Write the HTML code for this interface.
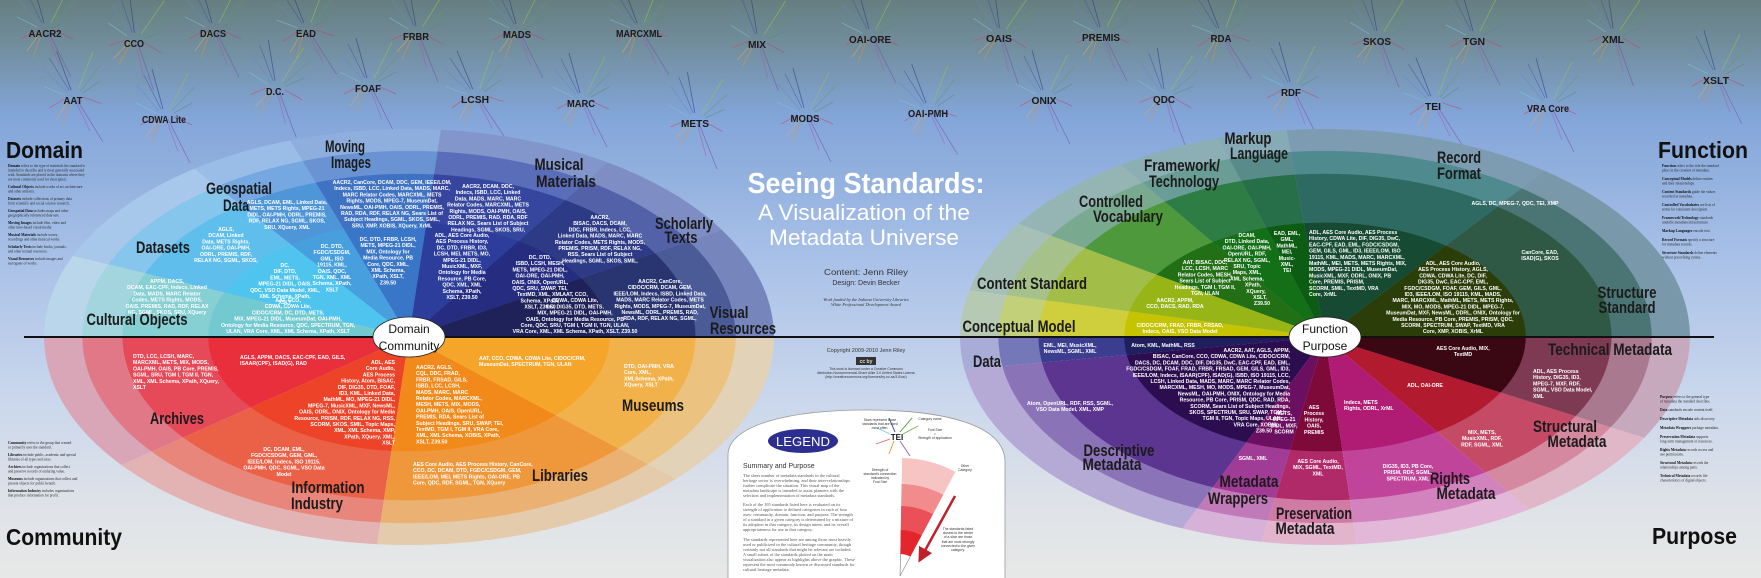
<!DOCTYPE html>
<html><head><meta charset="utf-8">
<style>
html,body{margin:0;padding:0;width:1761px;height:578px;overflow:hidden;}
svg{display:block}
.L{font:bold 17px "Liberation Sans",sans-serif;fill:#1b1b1b}
.T{font:bold 23px "Liberation Sans",sans-serif;fill:#111}
.S{font:bold 10.5px "Liberation Sans",sans-serif;fill:#1a1a1a}
.w{font:bold 5.2px "Liberation Sans",sans-serif;fill:#fff}
.d{font:3.6px "Liberation Serif",serif;fill:#2a2a2a}
.db{font:bold 3.6px "Liberation Serif",serif;fill:#111}
.g{font:4.4px "Liberation Serif",serif;fill:#555}
.a{font:3.4px "Liberation Sans",sans-serif;fill:#333}
</style></head><body>
<svg width="1761" height="578" viewBox="0 0 1761 578" xmlns="http://www.w3.org/2000/svg" xmlns:xlink="http://www.w3.org/1999/xlink">
<defs>
<linearGradient id="bg" x1="0" y1="0" x2="0" y2="1">
<stop offset="0" stop-color="#667e80"/>
<stop offset="0.09" stop-color="#7390a2"/>
<stop offset="0.2" stop-color="#82a5d8"/>
<stop offset="0.45" stop-color="#a9c1e8"/>
<stop offset="0.68" stop-color="#c9d6ec"/>
<stop offset="0.88" stop-color="#dfe3e8"/>
<stop offset="1" stop-color="#e7e8e7"/>
</linearGradient>
<marker id="ah" markerWidth="6" markerHeight="6" refX="3" refY="3" orient="auto"><path d="M0,0 L6,3 L0,6 Z" fill="#c0202a"/></marker>
<!-- left wheel sector clips (unit space) -->
<clipPath id="c1"><polygon points="0,0 -1.5,0 -1.381,-0.586"/></clipPath>
<clipPath id="c2"><polygon points="0,0 -1.381,-0.586 -0.882,-1.214"/></clipPath>
<clipPath id="c3"><polygon points="0,0 -0.882,-1.214 -0.488,-1.418"/></clipPath>
<clipPath id="c4"><polygon points="0,0 -0.488,-1.418 0.131,-1.494"/></clipPath>
<clipPath id="c5"><polygon points="0,0 0.131,-1.494 0.817,-1.258"/></clipPath>
<clipPath id="c6"><polygon points="0,0 0.817,-1.258 1.286,-0.773"/></clipPath>
<clipPath id="c7"><polygon points="0,0 1.286,-0.773 1.5,0"/></clipPath>
<clipPath id="c8"><polygon points="0,0 -1.5,0 -1.182,0.924"/></clipPath>
<clipPath id="c9"><polygon points="0,0 -1.182,0.924 -0.131,1.494"/></clipPath>
<clipPath id="c10"><polygon points="0,0 -0.131,1.494 1.097,1.023"/></clipPath>
<clipPath id="c11"><polygon points="0,0 1.097,1.023 1.5,0"/></clipPath>
<!-- right wheel -->
<clipPath id="d1"><polygon points="0,0 -1.5,0 -1.462,-0.338"/></clipPath>
<clipPath id="d2"><polygon points="0,0 -1.462,-0.338 -1.258,-0.817"/></clipPath>
<clipPath id="d3"><polygon points="0,0 -1.258,-0.817 -0.839,-1.244"/></clipPath>
<clipPath id="d4"><polygon points="0,0 -0.839,-1.244 -0.439,-1.434"/></clipPath>
<clipPath id="d5"><polygon points="0,0 -0.439,-1.434 -0.157,-1.492"/></clipPath>
<clipPath id="d6"><polygon points="0,0 -0.157,-1.492 0.903,-1.198"/></clipPath>
<clipPath id="d7"><polygon points="0,0 0.903,-1.198 1.5,0"/></clipPath>
<clipPath id="d8"><polygon points="0,0 -1.5,0 -1.482,0.235"/></clipPath>
<clipPath id="d9"><polygon points="0,0 -1.482,0.235 -0.586,1.381"/></clipPath>
<clipPath id="d10"><polygon points="0,0 -0.586,1.381 -0.260,1.477"/></clipPath>
<clipPath id="d11"><polygon points="0,0 -0.260,1.477 0.131,1.494"/></clipPath>
<clipPath id="d12"><polygon points="0,0 0.131,1.494 0.839,1.244"/></clipPath>
<clipPath id="d13"><polygon points="0,0 0.839,1.244 1.312,0.727"/></clipPath>
<clipPath id="d14"><polygon points="0,0 1.312,0.727 1.5,0"/></clipPath>
<g id="spk" stroke-width="0.8" stroke-opacity="0.6" fill="none">
<line x1="-1" y1="-10" x2="-12" y2="-50" stroke="#26367f"/>
<line x1="-3" y1="-10" x2="-20" y2="-44" stroke="#3a55a8"/>
<line x1="-5" y1="-8" x2="-27" y2="-34" stroke="#6288cc"/>
<line x1="-8" y1="-6" x2="-28" y2="-16" stroke="#7cc6e2"/>
<line x1="6" y1="-10" x2="24" y2="-46" stroke="#9acd3c"/>
<line x1="8" y1="-8" x2="30" y2="-32" stroke="#5aa05a"/>
<line x1="10" y1="-6" x2="28" y2="-16" stroke="#5e8a6c"/>
<line x1="4" y1="0" x2="26" y2="44" stroke="#7a48a8"/>
<line x1="2" y1="0" x2="14" y2="32" stroke="#a35ab2"/>
<line x1="-3" y1="0" x2="-12" y2="24" stroke="#e89232"/>
<line x1="-5" y1="0" x2="-18" y2="18" stroke="#f2a848"/>
<line x1="-9" y1="-2" x2="-24" y2="6" stroke="#e04050"/>
<line x1="10" y1="-2" x2="28" y2="6" stroke="#c04070"/>
</g>
</defs>
<rect width="1761" height="578" fill="url(#bg)"/>

<!-- spokes -->
<g>
<use xlink:href="#spk" href="#spk" transform="translate(45,33)"/>
<use xlink:href="#spk" href="#spk" transform="translate(134,43) rotate(8)"/>
<use xlink:href="#spk" href="#spk" transform="translate(213,33)"/>
<use xlink:href="#spk" href="#spk" transform="translate(306,33) rotate(-6)"/>
<use xlink:href="#spk" href="#spk" transform="translate(416,36) rotate(5)"/>
<use xlink:href="#spk" href="#spk" transform="translate(517,34)"/>
<use xlink:href="#spk" href="#spk" transform="translate(639,33) rotate(-5)"/>
<use xlink:href="#spk" href="#spk" transform="translate(757,44) rotate(6)"/>
<use xlink:href="#spk" href="#spk" transform="translate(870,39)"/>
<use xlink:href="#spk" href="#spk" transform="translate(999,38) rotate(8)"/>
<use xlink:href="#spk" href="#spk" transform="translate(1101,37)"/>
<use xlink:href="#spk" href="#spk" transform="translate(1221,38) rotate(-6)"/>
<use xlink:href="#spk" href="#spk" transform="translate(1377,41) rotate(5)"/>
<use xlink:href="#spk" href="#spk" transform="translate(1474,41)"/>
<use xlink:href="#spk" href="#spk" transform="translate(1613,39) rotate(7)"/>
<use xlink:href="#spk" href="#spk" transform="translate(1716,80)"/>
<use xlink:href="#spk" href="#spk" transform="translate(73,100) rotate(-5)"/>
<use xlink:href="#spk" href="#spk" transform="translate(164,119)"/>
<use xlink:href="#spk" href="#spk" transform="translate(275,91) rotate(6)"/>
<use xlink:href="#spk" href="#spk" transform="translate(368,88)"/>
<use xlink:href="#spk" href="#spk" transform="translate(475,99) rotate(-7)"/>
<use xlink:href="#spk" href="#spk" transform="translate(581,103)"/>
<use xlink:href="#spk" href="#spk" transform="translate(695,123) rotate(5)"/>
<use xlink:href="#spk" href="#spk" transform="translate(805,118)"/>
<use xlink:href="#spk" href="#spk" transform="translate(928,113) rotate(-5)"/>
<use xlink:href="#spk" href="#spk" transform="translate(1044,100)"/>
<use xlink:href="#spk" href="#spk" transform="translate(1164,99) rotate(6)"/>
<use xlink:href="#spk" href="#spk" transform="translate(1291,92)"/>
<use xlink:href="#spk" href="#spk" transform="translate(1433,106) rotate(-6)"/>
<use xlink:href="#spk" href="#spk" transform="translate(1548,108)"/>
</g>

<!-- LEFT WHEEL -->
<g transform="translate(409,337) scale(365,208)">
<g clip-path="url(#c1)"><ellipse rx="1" ry="1" fill="#bad6ea"/><ellipse rx="0.895" ry="0.895" fill="#a2d5de"/><ellipse rx="0.785" ry="0.785" fill="#86cfd3"/><ellipse rx="0.55" ry="0.55" fill="#73c9d0"/></g>
<g clip-path="url(#c2)"><ellipse rx="1" ry="1" fill="#a7c8eb"/><ellipse rx="0.895" ry="0.895" fill="#86c5ec"/><ellipse rx="0.785" ry="0.785" fill="#5fbeeb"/><ellipse rx="0.55" ry="0.55" fill="#4ec4ef"/></g>
<g clip-path="url(#c3)"><ellipse rx="1" ry="1" fill="#99bde6"/><ellipse rx="0.895" ry="0.895" fill="#75a8e0"/><ellipse rx="0.785" ry="0.785" fill="#4f96d8"/><ellipse rx="0.55" ry="0.55" fill="#479fde"/></g>
<g clip-path="url(#c4)"><ellipse rx="1" ry="1" fill="#8eaede"/><ellipse rx="0.895" ry="0.895" fill="#6a93d4"/><ellipse rx="0.785" ry="0.785" fill="#3f72c2"/><ellipse rx="0.55" ry="0.55" fill="#3a76c7"/></g>
<g clip-path="url(#c5)"><ellipse rx="1" ry="1" fill="#8296cc"/><ellipse rx="0.895" ry="0.895" fill="#5a6db8"/><ellipse rx="0.785" ry="0.785" fill="#36469e"/><ellipse rx="0.55" ry="0.55" fill="#2c3d9c"/></g>
<g clip-path="url(#c6)"><ellipse rx="1" ry="1" fill="#7e8dc4"/><ellipse rx="0.895" ry="0.895" fill="#5361a8"/><ellipse rx="0.785" ry="0.785" fill="#2d3a86"/><ellipse rx="0.55" ry="0.55" fill="#262d80"/></g>
<g clip-path="url(#c7)"><ellipse rx="1" ry="1" fill="#7686bc"/><ellipse rx="0.895" ry="0.895" fill="#4b5b98"/><ellipse rx="0.785" ry="0.785" fill="#283570"/><ellipse rx="0.55" ry="0.55" fill="#1e2258"/></g>
<g clip-path="url(#c8)"><ellipse rx="1" ry="1" fill="#d9a6b8"/><ellipse rx="0.895" ry="0.895" fill="#e07888"/><ellipse rx="0.785" ry="0.785" fill="#e64a58"/><ellipse rx="0.55" ry="0.55" fill="#e92f3b"/></g>
<g clip-path="url(#c9)"><ellipse rx="1" ry="1" fill="#e3b2b2"/><ellipse rx="0.895" ry="0.895" fill="#e8867c"/><ellipse rx="0.785" ry="0.785" fill="#eb6148"/><ellipse rx="0.55" ry="0.55" fill="#ed4429"/></g>
<g clip-path="url(#c10)"><ellipse rx="1" ry="1" fill="#e4cbab"/><ellipse rx="0.895" ry="0.895" fill="#ebb172"/><ellipse rx="0.785" ry="0.785" fill="#ef983b"/><ellipse rx="0.55" ry="0.55" fill="#f28a1b"/></g>
<g clip-path="url(#c11)"><ellipse rx="1" ry="1" fill="#e2d2b7"/><ellipse rx="0.895" ry="0.895" fill="#ebc27f"/><ellipse rx="0.785" ry="0.785" fill="#f2b24b"/><ellipse rx="0.55" ry="0.55" fill="#f6a52b"/></g>
</g>

<!-- RIGHT WHEEL -->
<g transform="translate(1325,337) scale(365,208)">
<g clip-path="url(#d1)"><ellipse rx="1" ry="1" fill="#b6c9b2"/><ellipse rx="0.895" ry="0.895" fill="#c2d07a"/><ellipse rx="0.785" ry="0.785" fill="#cfcf3e"/><ellipse rx="0.55" ry="0.55" fill="#c6c300"/></g>
<g clip-path="url(#d2)"><ellipse rx="1" ry="1" fill="#a6c0b8"/><ellipse rx="0.895" ry="0.895" fill="#a6c28a"/><ellipse rx="0.785" ry="0.785" fill="#a3bd49"/><ellipse rx="0.55" ry="0.55" fill="#97b517"/></g>
<g clip-path="url(#d3)"><ellipse rx="1" ry="1" fill="#95b5b4"/><ellipse rx="0.895" ry="0.895" fill="#79a98f"/><ellipse rx="0.785" ry="0.785" fill="#4e993b"/><ellipse rx="0.55" ry="0.55" fill="#226f16"/></g>
<g clip-path="url(#d4)"><ellipse rx="1" ry="1" fill="#8cafb6"/><ellipse rx="0.895" ry="0.895" fill="#6a9d95"/><ellipse rx="0.785" ry="0.785" fill="#2e7d45"/><ellipse rx="0.55" ry="0.55" fill="#137016"/></g>
<g clip-path="url(#d5)"><ellipse rx="1" ry="1" fill="#86aab6"/><ellipse rx="0.895" ry="0.895" fill="#5a8b8b"/><ellipse rx="0.785" ry="0.785" fill="#276f48"/><ellipse rx="0.55" ry="0.55" fill="#0d5c14"/></g>
<g clip-path="url(#d6)"><ellipse rx="1" ry="1" fill="#7d9cb1"/><ellipse rx="0.895" ry="0.895" fill="#4f8a8e"/><ellipse rx="0.785" ry="0.785" fill="#2f6a62"/><ellipse rx="0.55" ry="0.55" fill="#164a32"/></g>
<g clip-path="url(#d7)"><ellipse rx="1" ry="1" fill="#7998a9"/><ellipse rx="0.895" ry="0.895" fill="#4b7474"/><ellipse rx="0.785" ry="0.785" fill="#2f5944"/><ellipse rx="0.55" ry="0.55" fill="#2b3d08"/></g>
<g clip-path="url(#d8)"><ellipse rx="1" ry="1" fill="#a8acd7"/><ellipse rx="0.895" ry="0.895" fill="#7478b8"/><ellipse rx="0.785" ry="0.785" fill="#3b3d8e"/><ellipse rx="0.55" ry="0.55" fill="#1f1e5e"/></g>
<g clip-path="url(#d9)"><ellipse rx="1" ry="1" fill="#b5a9d6"/><ellipse rx="0.895" ry="0.895" fill="#8b73b8"/><ellipse rx="0.785" ry="0.785" fill="#5b3590"/><ellipse rx="0.55" ry="0.55" fill="#2c0e50"/></g>
<g clip-path="url(#d10)"><ellipse rx="1" ry="1" fill="#d7b1d7"/><ellipse rx="0.895" ry="0.895" fill="#c07ab8"/><ellipse rx="0.785" ry="0.785" fill="#a03c96"/><ellipse rx="0.55" ry="0.55" fill="#6b1060"/></g>
<g clip-path="url(#d11)"><ellipse rx="1" ry="1" fill="#e2b5cd"/><ellipse rx="0.895" ry="0.895" fill="#cf7ba4"/><ellipse rx="0.785" ry="0.785" fill="#b02a6a"/><ellipse rx="0.55" ry="0.55" fill="#7e0a3a"/></g>
<g clip-path="url(#d12)"><ellipse rx="1" ry="1" fill="#e2b7d8"/><ellipse rx="0.895" ry="0.895" fill="#d283be"/><ellipse rx="0.785" ry="0.785" fill="#c0449a"/><ellipse rx="0.55" ry="0.55" fill="#b01c74"/></g>
<g clip-path="url(#d13)"><ellipse rx="1" ry="1" fill="#e0b7c7"/><ellipse rx="0.895" ry="0.895" fill="#d489a1"/><ellipse rx="0.785" ry="0.785" fill="#c44a66"/><ellipse rx="0.55" ry="0.55" fill="#b21a30"/></g>
<g clip-path="url(#d14)"><ellipse rx="1" ry="1" fill="#c7a9bd"/><ellipse rx="0.895" ry="0.895" fill="#a8798f"/><ellipse rx="0.785" ry="0.785" fill="#7e3a52"/><ellipse rx="0.55" ry="0.55" fill="#3a0812"/></g>
</g>

<!-- divider -->
<line x1="24" y1="337" x2="1714" y2="337" stroke="#111" stroke-width="2"/>

<!-- top standard labels -->
<g class="S" text-anchor="middle">
<text x="45" y="37" textLength="33" lengthAdjust="spacingAndGlyphs">AACR2</text>
<text x="134" y="47" textLength="20" lengthAdjust="spacingAndGlyphs">CCO</text>
<text x="213" y="37" textLength="26" lengthAdjust="spacingAndGlyphs">DACS</text>
<text x="306" y="37" textLength="20" lengthAdjust="spacingAndGlyphs">EAD</text>
<text x="416" y="40" textLength="26" lengthAdjust="spacingAndGlyphs">FRBR</text>
<text x="517" y="38" textLength="28" lengthAdjust="spacingAndGlyphs">MADS</text>
<text x="639" y="37" textLength="46" lengthAdjust="spacingAndGlyphs">MARCXML</text>
<text x="757" y="48" textLength="18" lengthAdjust="spacingAndGlyphs">MIX</text>
<text x="870" y="43" textLength="42" lengthAdjust="spacingAndGlyphs">OAI-ORE</text>
<text x="999" y="42" textLength="26" lengthAdjust="spacingAndGlyphs">OAIS</text>
<text x="1101" y="41" textLength="38" lengthAdjust="spacingAndGlyphs">PREMIS</text>
<text x="1221" y="42" textLength="21" lengthAdjust="spacingAndGlyphs">RDA</text>
<text x="1377" y="45" textLength="28" lengthAdjust="spacingAndGlyphs">SKOS</text>
<text x="1474" y="45" textLength="22" lengthAdjust="spacingAndGlyphs">TGN</text>
<text x="1613" y="43" textLength="22" lengthAdjust="spacingAndGlyphs">XML</text>
<text x="1716" y="84" textLength="26" lengthAdjust="spacingAndGlyphs">XSLT</text>
<text x="73" y="104" textLength="19" lengthAdjust="spacingAndGlyphs">AAT</text>
<text x="164" y="123" textLength="44" lengthAdjust="spacingAndGlyphs">CDWA Lite</text>
<text x="275" y="95" textLength="18" lengthAdjust="spacingAndGlyphs">D.C.</text>
<text x="368" y="92" textLength="26" lengthAdjust="spacingAndGlyphs">FOAF</text>
<text x="475" y="103" textLength="28" lengthAdjust="spacingAndGlyphs">LCSH</text>
<text x="581" y="107" textLength="28" lengthAdjust="spacingAndGlyphs">MARC</text>
<text x="695" y="127" textLength="28" lengthAdjust="spacingAndGlyphs">METS</text>
<text x="805" y="122" textLength="29" lengthAdjust="spacingAndGlyphs">MODS</text>
<text x="928" y="117" textLength="40" lengthAdjust="spacingAndGlyphs">OAI-PMH</text>
<text x="1044" y="104" textLength="25" lengthAdjust="spacingAndGlyphs">ONIX</text>
<text x="1164" y="103" textLength="22" lengthAdjust="spacingAndGlyphs">QDC</text>
<text x="1291" y="96" textLength="20" lengthAdjust="spacingAndGlyphs">RDF</text>
<text x="1433" y="110" textLength="16" lengthAdjust="spacingAndGlyphs">TEI</text>
<text x="1548" y="112" textLength="42" lengthAdjust="spacingAndGlyphs">VRA Core</text>
</g>

<!-- corner titles -->
<text class="T" x="6" y="158" textLength="77" lengthAdjust="spacingAndGlyphs">Domain</text>
<text class="T" x="6" y="545" textLength="116" lengthAdjust="spacingAndGlyphs">Community</text>
<text class="T" x="1658" y="158" textLength="90" lengthAdjust="spacingAndGlyphs">Function</text>
<text class="T" x="1652" y="544" textLength="85" lengthAdjust="spacingAndGlyphs">Purpose</text>

<!-- side descriptions -->
<g>
<text class="d" x="8" y="167"><tspan class="db">Domain</tspan> refers to the type of materials the standard is</text>
<text class="d" x="8" y="171.5">intended to describe and is most generally associated</text>
<text class="d" x="8" y="176">with. Standards are placed in the domains where they</text>
<text class="d" x="8" y="180.5">are most commonly used for description.</text>
<text class="d" x="8" y="188"><tspan class="db">Cultural Objects</tspan> include works of art, architecture</text>
<text class="d" x="8" y="192.5">and other artifacts.</text>
<text class="d" x="8" y="200"><tspan class="db">Datasets</tspan> include collections of primary data</text>
<text class="d" x="8" y="204.5">from scientific and social science research.</text>
<text class="d" x="8" y="212"><tspan class="db">Geospatial Data</tspan> includes maps and other</text>
<text class="d" x="8" y="216.5">geographically referenced data sets.</text>
<text class="d" x="8" y="224"><tspan class="db">Moving Images</tspan> include film, video and</text>
<text class="d" x="8" y="228.5">other time-based visual media.</text>
<text class="d" x="8" y="236"><tspan class="db">Musical Materials</tspan> include scores,</text>
<text class="d" x="8" y="240.5">recordings and other musical works.</text>
<text class="d" x="8" y="248"><tspan class="db">Scholarly Texts</tspan> include books, journals,</text>
<text class="d" x="8" y="252.5">and other textual resources.</text>
<text class="d" x="8" y="260"><tspan class="db">Visual Resources</tspan> include images and</text>
<text class="d" x="8" y="264.5">surrogates of works.</text>

<text class="d" x="8" y="444"><tspan class="db">Community</tspan> refers to the group that created</text>
<text class="d" x="8" y="448.5">or primarily uses the standard.</text>
<text class="d" x="8" y="456"><tspan class="db">Libraries</tspan> include public, academic and special</text>
<text class="d" x="8" y="460.5">libraries of all types and sizes.</text>
<text class="d" x="8" y="468"><tspan class="db">Archives</tspan> include organizations that collect</text>
<text class="d" x="8" y="472.5">and preserve records of enduring value.</text>
<text class="d" x="8" y="480"><tspan class="db">Museums</tspan> include organizations that collect and</text>
<text class="d" x="8" y="484.5">present objects for public benefit.</text>
<text class="d" x="8" y="492"><tspan class="db">Information Industry</tspan> includes organizations</text>
<text class="d" x="8" y="496.5">that produce information for profit.</text>

<text class="d" x="1662" y="167"><tspan class="db">Function</tspan> refers to the role the standard</text>
<text class="d" x="1662" y="171.5">plays in the creation of metadata.</text>
<text class="d" x="1662" y="180"><tspan class="db">Conceptual Models</tspan> define entities</text>
<text class="d" x="1662" y="184.5">and their relationships.</text>
<text class="d" x="1662" y="193"><tspan class="db">Content Standards</tspan> guide the values</text>
<text class="d" x="1662" y="197.5">recorded in metadata.</text>
<text class="d" x="1662" y="206"><tspan class="db">Controlled Vocabularies</tspan> are lists of</text>
<text class="d" x="1662" y="210.5">terms for consistent description.</text>
<text class="d" x="1662" y="219"><tspan class="db">Framework/Technology</tspan> standards</text>
<text class="d" x="1662" y="223.5">underlie metadata infrastructure.</text>
<text class="d" x="1662" y="232"><tspan class="db">Markup Languages</tspan> encode text.</text>
<text class="d" x="1662" y="241"><tspan class="db">Record Formats</tspan> specify a structure</text>
<text class="d" x="1662" y="245.5">for metadata records.</text>
<text class="d" x="1662" y="254"><tspan class="db">Structure Standards</tspan> define elements</text>
<text class="d" x="1662" y="258.5">without prescribing syntax.</text>

<text class="d" x="1660" y="398"><tspan class="db">Purpose</tspan> refers to the general type</text>
<text class="d" x="1660" y="402.5">of metadata the standard describes.</text>
<text class="d" x="1660" y="411"><tspan class="db">Data</tspan> standards encode content itself.</text>
<text class="d" x="1660" y="420"><tspan class="db">Descriptive Metadata</tspan> aids discovery.</text>
<text class="d" x="1660" y="429"><tspan class="db">Metadata Wrappers</tspan> package metadata.</text>
<text class="d" x="1660" y="438"><tspan class="db">Preservation Metadata</tspan> supports</text>
<text class="d" x="1660" y="442.5">long-term management of resources.</text>
<text class="d" x="1660" y="451"><tspan class="db">Rights Metadata</tspan> records access and</text>
<text class="d" x="1660" y="455.5">use permissions.</text>
<text class="d" x="1660" y="464"><tspan class="db">Structural Metadata</tspan> records the</text>
<text class="d" x="1660" y="468.5">relationships among parts.</text>
<text class="d" x="1660" y="477"><tspan class="db">Technical Metadata</tspan> records file</text>
<text class="d" x="1660" y="481.5">characteristics of digital objects.</text>
</g>

<!-- wheel category labels -->
<g class="L" text-anchor="middle">
<text x="345" y="152" textLength="40" lengthAdjust="spacingAndGlyphs">Moving</text>
<text x="351" y="168" textLength="40" lengthAdjust="spacingAndGlyphs">Images</text>
<text x="239" y="194" textLength="66" lengthAdjust="spacingAndGlyphs">Geospatial</text>
<text x="236" y="211" textLength="26" lengthAdjust="spacingAndGlyphs">Data</text>
<text x="559" y="170" textLength="49" lengthAdjust="spacingAndGlyphs">Musical</text>
<text x="566" y="187" textLength="60" lengthAdjust="spacingAndGlyphs">Materials</text>
<text x="163" y="253" textLength="54" lengthAdjust="spacingAndGlyphs">Datasets</text>
<text x="684" y="229" textLength="58" lengthAdjust="spacingAndGlyphs">Scholarly</text>
<text x="681" y="243" textLength="33" lengthAdjust="spacingAndGlyphs">Texts</text>
<text x="137" y="325" textLength="101" lengthAdjust="spacingAndGlyphs">Cultural Objects</text>
<text x="729" y="318" textLength="39" lengthAdjust="spacingAndGlyphs">Visual</text>
<text x="743" y="334" textLength="66" lengthAdjust="spacingAndGlyphs">Resources</text>
<text x="177" y="424" textLength="54" lengthAdjust="spacingAndGlyphs">Archives</text>
<text x="653" y="411" textLength="62" lengthAdjust="spacingAndGlyphs">Museums</text>
<text x="328" y="493" textLength="73" lengthAdjust="spacingAndGlyphs">Information</text>
<text x="317" y="509" textLength="52" lengthAdjust="spacingAndGlyphs">Industry</text>
<text x="560" y="481" textLength="56" lengthAdjust="spacingAndGlyphs">Libraries</text>

<text x="1248" y="144" textLength="47" lengthAdjust="spacingAndGlyphs">Markup</text>
<text x="1259" y="159" textLength="58" lengthAdjust="spacingAndGlyphs">Language</text>
<text x="1182" y="171" textLength="76" lengthAdjust="spacingAndGlyphs">Framework/</text>
<text x="1184" y="187" textLength="70" lengthAdjust="spacingAndGlyphs">Technology</text>
<text x="1459" y="163" textLength="44" lengthAdjust="spacingAndGlyphs">Record</text>
<text x="1459" y="179" textLength="44" lengthAdjust="spacingAndGlyphs">Format</text>
<text x="1111" y="207" textLength="64" lengthAdjust="spacingAndGlyphs">Controlled</text>
<text x="1128" y="222" textLength="70" lengthAdjust="spacingAndGlyphs">Vocabulary</text>
<text x="1032" y="289" textLength="110" lengthAdjust="spacingAndGlyphs">Content Standard</text>
<text x="1627" y="298" textLength="59" lengthAdjust="spacingAndGlyphs">Structure</text>
<text x="1627" y="313" textLength="57" lengthAdjust="spacingAndGlyphs">Standard</text>
<text x="1019" y="332" textLength="113" lengthAdjust="spacingAndGlyphs">Conceptual Model</text>
<text x="987" y="367" textLength="28" lengthAdjust="spacingAndGlyphs">Data</text>
<text x="1610" y="355" textLength="124" lengthAdjust="spacingAndGlyphs">Technical Metadata</text>
<text x="1565" y="432" textLength="64" lengthAdjust="spacingAndGlyphs">Structural</text>
<text x="1577" y="447" textLength="59" lengthAdjust="spacingAndGlyphs">Metadata</text>
<text x="1119" y="456" textLength="71" lengthAdjust="spacingAndGlyphs">Descriptive</text>
<text x="1112" y="470" textLength="59" lengthAdjust="spacingAndGlyphs">Metadata</text>
<text x="1450" y="484" textLength="40" lengthAdjust="spacingAndGlyphs">Rights</text>
<text x="1466" y="499" textLength="59" lengthAdjust="spacingAndGlyphs">Metadata</text>
<text x="1249" y="487" textLength="59" lengthAdjust="spacingAndGlyphs">Metadata</text>
<text x="1238" y="504" textLength="60" lengthAdjust="spacingAndGlyphs">Wrappers</text>
<text x="1314" y="519" textLength="76" lengthAdjust="spacingAndGlyphs">Preservation</text>
<text x="1305" y="534" textLength="59" lengthAdjust="spacingAndGlyphs">Metadata</text>
</g>

<!-- inner white text: Domain -->
<g class="w" text-anchor="middle">
<text x="388" y="241">DC, DTD, FRBR, LCSH,</text>
<text x="388" y="247.2">METS, MPEG-21 DIDL,</text>
<text x="388" y="253.4">MIX, Ontology for</text>
<text x="388" y="259.6">Media Resource, PB</text>
<text x="388" y="265.8">Core, QDC, XML,</text>
<text x="388" y="272">XML Schema,</text>
<text x="388" y="278.2">XPath, XSLT,</text>
<text x="388" y="284.4">Z39.50</text>

<text x="462" y="237">ADL, AES Core Audio,</text>
<text x="462" y="243.2">AES Process History,</text>
<text x="462" y="249.4">DC, DTD, FRBR, ID3,</text>
<text x="462" y="255.6">LCSH, MEI, METS, MO,</text>
<text x="462" y="261.8">MPEG-21 DIDL,</text>
<text x="462" y="268">MusicXML, MXF,</text>
<text x="462" y="274.2">Ontology for Media</text>
<text x="462" y="280.4">Resource, PB Core,</text>
<text x="462" y="286.6">QDC, XML, XML</text>
<text x="462" y="292.8">Schema, XPath,</text>
<text x="462" y="299">XSLT, Z39.50</text>

<text x="540" y="259">DC, DTD,</text>
<text x="540" y="265.2">ISBD, LCSH, MESH,</text>
<text x="540" y="271.4">METS, MPEG-21 DIDL,</text>
<text x="540" y="277.6">OAI-ORE, OAI-PMH,</text>
<text x="540" y="283.8">OAIS, ONIX, OpenURL,</text>
<text x="540" y="290">QDC, SRU, SWAP, TEI,</text>
<text x="540" y="296.2">TextMD, XML, XML</text>
<text x="540" y="302.4">Schema, XPath,</text>
<text x="540" y="308.6">XSLT, Z39.50</text>

<text x="575" y="296">AAT, CCO,</text>
<text x="575" y="302.2">CDWA, CDWA Lite,</text>
<text x="575" y="308.4">DC, DIG35, DTD, METS,</text>
<text x="575" y="314.6">MIX, MPEG-21 DIDL, OAI-PMH,</text>
<text x="575" y="320.8">OAIS, Ontology for Media Resource, PB</text>
<text x="575" y="327">Core, QDC, SRU, TGM I, TGM II, TGN, ULAN,</text>
<text x="575" y="333.2">VRA Core, XML, XML Schema, XPath, XSLT, Z39.50</text>

<text x="288" y="302">AAT, CCO,</text>
<text x="288" y="308.2">CDWA, CDWA Lite,</text>
<text x="288" y="314.4">CIDOC/CRM, DC, DTD, METS,</text>
<text x="288" y="320.6">MIX, MPEG-21 DIDL, MuseumDat, OAI-PMH,</text>
<text x="288" y="326.8">Ontology for Media Resource, QDC, SPECTRUM, TGN,</text>
<text x="288" y="333">ULAN, VRA Core, XML, XML Schema, XPath, XSLT</text>

<text x="285" y="267">DC,</text>
<text x="285" y="273.2">DIF, DTD,</text>
<text x="285" y="279.4">EML, METS,</text>
<text x="285" y="285.6">MPEG-21 DIDL, OAIS,</text>
<text x="285" y="291.8">QDC, VSO Data Model, XML,</text>
<text x="285" y="298">XML Schema, XPath,</text>
<text x="285" y="304.2">XSLT</text>

<text x="332" y="248">DC, DTD,</text>
<text x="332" y="254.2">FGDC/CSDGM,</text>
<text x="332" y="260.4">GML, ISO</text>
<text x="332" y="266.6">19115, KML,</text>
<text x="332" y="272.8">OAIS, QDC,</text>
<text x="332" y="279">TGN, XML, XML</text>
<text x="332" y="285.2">Schema, XPath,</text>
<text x="332" y="291.4">XSLT</text>

<text x="392" y="184">AACR2, CanCore, DCAM, DDC, GEM, IEEE/LOM,</text>
<text x="392" y="190.2">Indecs, ISBD, LCC, Linked Data, MADS, MARC,</text>
<text x="392" y="196.4">MARC Relator Codes, MARCXML, METS</text>
<text x="392" y="202.6">Rights, MODS, MPEG-7, MuseumDat,</text>
<text x="392" y="208.8">NewsML, OAI-PMH, OAIS, ODRL, PREMIS,</text>
<text x="392" y="215">RAD, RDA, RDF, RELAX NG, Sears List of</text>
<text x="392" y="221.2">Subject Headings, SGML, SKOS, SMIL,</text>
<text x="392" y="227.4">SRU, XMP, XOBIS, XQuery, XrML</text>

<text x="488" y="188">AACR2, DCAM, DDC,</text>
<text x="488" y="194.2">Indecs, ISBD, LCC, Linked</text>
<text x="488" y="200.4">Data, MADS, MARC, MARC</text>
<text x="488" y="206.6">Relator Codes, MARCXML, METS</text>
<text x="488" y="212.8">Rights, MODS, OAI-PMH, OAIS,</text>
<text x="488" y="219">ODRL, PREMIS, RAD, RDA, RDF</text>
<text x="488" y="225.2">RELAX NG, Sears List of Subject</text>
<text x="488" y="231.4">Headings, SGML, SKOS, SRU,</text>

<text x="600" y="219">AACR2,</text>
<text x="600" y="225.2">BISAC, DACS, DCAM,</text>
<text x="600" y="231.4">DDC, FRBR, Indecs, LCC,</text>
<text x="600" y="237.6">Linked Data, MADS, MARC, MARC</text>
<text x="600" y="243.8">Relator Codes, METS Rights, MODS,</text>
<text x="600" y="250">PREMIS, PRISM, RDF, RELAX NG,</text>
<text x="600" y="256.2">RSS, Sears List of Subject</text>
<text x="600" y="262.4">Headings, SGML, SKOS, SMIL,</text>

<text x="287" y="204">AGLS, DCAM, EML, Linked Data,</text>
<text x="287" y="210.2">METS, METS Rights, MPEG-21</text>
<text x="287" y="216.4">DIDL, OAI-PMH, ODRL, PREMIS,</text>
<text x="287" y="222.6">RDF, RELAX NG, SGML, SKOS,</text>
<text x="287" y="228.8">SRU, XQuery, XML</text>

<text x="226" y="231">AGLS,</text>
<text x="226" y="237.2">DCAM, Linked</text>
<text x="226" y="243.4">Data, METS Rights,</text>
<text x="226" y="249.6">OAI-ORE, OAI-PMH,</text>
<text x="226" y="255.8">ODRL, PREMIS, RDF,</text>
<text x="226" y="262">RELAX NG, SGML, SKOS,</text>

<text x="167" y="283">APPM, DACS,</text>
<text x="167" y="289.2">DCAM, EAC-CPF, Indecs, Linked</text>
<text x="167" y="295.4">Data, MADS, MARC Relator</text>
<text x="167" y="301.6">Codes, METS Rights, MODS,</text>
<text x="167" y="307.8">OAIS, PREMIS, RAD, RDF, RELAX</text>
<text x="167" y="314">NG, SGML, SKOS, SRU, XQuery</text>

<text x="660" y="283">AACR2, CanCore,</text>
<text x="660" y="289.2">CIDOC/CRM, DCAM, GEM,</text>
<text x="660" y="295.4">IEEE/LOM, Indecs, ISBD, Linked Data,</text>
<text x="660" y="301.6">MADS, MARC Relator Codes, METS</text>
<text x="660" y="307.8">Rights, MODS, MPEG-7, MuseumDat,</text>
<text x="660" y="314">NewsML, ODRL, PREMIS, RAD,</text>
<text x="660" y="320.2">RDA, RDF, RELAX NG, SGML,</text>
</g>

<!-- inner white text: Community -->
<g class="w">
<text x="240" y="359">AGLS, APPM, DACS, EAC-CPF, EAD, GILS,</text>
<text x="240" y="365.2">ISAAR(CPF), ISAD(G), RAD</text>
<text x="133" y="358">DTD, LCC, LCSH, MARC,</text>
<text x="133" y="364.2">MARCXML, METS, MIX, MODS,</text>
<text x="133" y="370.4">OAI-PMH, OAIS, PB Core, PREMIS,</text>
<text x="133" y="376.6">SGML, SRU, TGM I, TGM II, TGN,</text>
<text x="133" y="382.8">XML, XML Schema, XPath, XQuery,</text>
<text x="133" y="389">XSLT</text>
<text x="479" y="360">AAT, CCO, CDWA, CDWA Lite, CIDOC/CRM,</text>
<text x="479" y="366.2">MuseumDat, SPECTRUM, TGN, ULAN</text>
<text x="624" y="368">DTD, OAI-PMH, VRA</text>
<text x="624" y="374.2">Core, XML,</text>
<text x="624" y="380.4">XMLSchema, XPath,</text>
<text x="624" y="386.6">XQuery, XSLT</text>
<text x="416" y="369">AACR2, AGLS,</text>
<text x="416" y="375.2">CQL, DDC, FRAD,</text>
<text x="416" y="381.4">FRBR, FRSAD, GILS,</text>
<text x="416" y="387.6">ISBD, LCC, LCSH,</text>
<text x="416" y="393.8">MADS, MARC, MARC</text>
<text x="416" y="400">Relator Codes, MARCXML,</text>
<text x="416" y="406.2">MESH, METS, MIX, MODS,</text>
<text x="416" y="412.4">OAI-PMH, OAIS, OpenURL,</text>
<text x="416" y="418.6">PREMIS, RDA, Sears List of</text>
<text x="416" y="424.8">Subject Headings, SRU, SWAP, TEI,</text>
<text x="416" y="431">TextMD, TGM I, TGM II, VRA Core,</text>
<text x="416" y="437.2">XML, XML Schema, XOBIS, XPath,</text>
<text x="416" y="443.4">XSLT, Z39.50</text>
<text x="413" y="466">AES Core Audio, AES Process History, CanCore,</text>
<text x="413" y="472.2">CCO, DC, DCAM, DTD, FGDC/CSDGM, GEM,</text>
<text x="413" y="478.4">IEEE/LOM, MEI, METS Rights, OAI-ORE, PB</text>
<text x="413" y="484.6">Core, QDC, RDF, SGML, TGN, XQuery</text>
</g>
<g class="w" text-anchor="end">
<text x="395" y="364">ADL, AES</text>
<text x="395" y="370.2">Core Audio,</text>
<text x="395" y="376.4">AES Process</text>
<text x="395" y="382.6">History, Atom, BISAC,</text>
<text x="395" y="388.8">DIF, DIG35, DTD, FOAF,</text>
<text x="395" y="395">ID3, KML, Linked Data,</text>
<text x="395" y="401.2">MathML, MO, MPEG-21 DIDL,</text>
<text x="395" y="407.4">MPEG-7, MusicXML, MXF, NewsML,</text>
<text x="395" y="413.6">OAIS, ODRL, ONIX, Ontology for Media</text>
<text x="395" y="419.8">Resource, PRISM, RDF, RELAX NG, RSS,</text>
<text x="395" y="426">SCORM, SKOS, SMIL, Topic Maps,</text>
<text x="395" y="432.2">XML, XML Schema, XMP,</text>
<text x="395" y="438.4">XPath, XQuery, XML,</text>
<text x="395" y="444.6">XSLT</text>
</g>
<g class="w" text-anchor="middle">
<text x="284" y="451">DC, DCAM, EML,</text>
<text x="284" y="457.2">FGDC/CSDGM, GEM, GML,</text>
<text x="284" y="463.4">IEEE/LOM, Indecs, ISO 19115,</text>
<text x="284" y="469.6">OAI-PMH, QDC, SGML, VSO Data</text>
<text x="284" y="475.8">Model</text>
</g>

<!-- inner white text: Function / Purpose -->
<g class="w" text-anchor="middle">
<text x="1453" y="265">ADL, AES Core Audio,</text>
<text x="1453" y="271.2">AES Process History, AGLS,</text>
<text x="1453" y="277.4">CDWA, CDWA Lite, DC, DIF,</text>
<text x="1453" y="283.6">DIG35, DwC, EAC-CPF, EML,</text>
<text x="1453" y="289.8">FGDC/CSDGM, FOAF, GEM, GILS, GML,</text>
<text x="1453" y="296">ID3, IEEE/LOM, ISO 19115, KML, MADS,</text>
<text x="1453" y="302.2">MARC, MARCXML, MathML, METS, METS Rights,</text>
<text x="1453" y="308.4">MIX, MO, MODS, MPEG-21 DIDL, MPEG-7,</text>
<text x="1453" y="314.6">MuseumDat, MXF, NewsML, ODRL, ONIX, Ontology for</text>
<text x="1453" y="320.8">Media Resource, PB Core, PREMIS, PRISM, QDC,</text>
<text x="1453" y="327">SCORM, SPECTRUM, SWAP, TextMD, VRA</text>
<text x="1453" y="333.2">Core, XMP, XOBIS, XrML</text>

<text x="1287" y="235">EAD, EML,</text>
<text x="1287" y="241.2">GML,</text>
<text x="1287" y="247.4">MathML,</text>
<text x="1287" y="253.6">MEI,</text>
<text x="1287" y="259.8">Music-</text>
<text x="1287" y="266">XML,</text>
<text x="1287" y="272.2">TEI</text>

<text x="1247" y="237">DCAM,</text>
<text x="1247" y="243.2">DTD, Linked Data,</text>
<text x="1247" y="249.4">OAI-ORE, OAI-PMH,</text>
<text x="1247" y="255.6">OpenURL, RDF,</text>
<text x="1247" y="261.8">RELAX NG, SGML,</text>
<text x="1247" y="268">SRU, Topic</text>
<text x="1247" y="274.2">Maps, XML,</text>
<text x="1247" y="280.4">XML Schema,</text>
<text x="1253" y="286.6">XPath,</text>
<text x="1256" y="292.8">XQuery,</text>
<text x="1260" y="299">XSLT,</text>
<text x="1262" y="305.2">Z39.50</text>

<text x="1205" y="264">AAT, BISAC, DDC,</text>
<text x="1205" y="270.2">LCC, LCSH, MARC</text>
<text x="1205" y="276.4">Relator Codes, MESH,</text>
<text x="1205" y="282.6">Sears List of Subject</text>
<text x="1205" y="288.8">Headings, TGM I, TGM II,</text>
<text x="1205" y="295">TGN, ULAN</text>

<text x="1175" y="302">AACR2, APPM,</text>
<text x="1175" y="308.2">CCO, DACS, RAD, RDA</text>
<text x="1180" y="327">CIDOC/CRM, FRAD, FRBR, FRSAD,</text>
<text x="1180" y="333.2">Indecs, OAIS, VSO Data Model</text>

<text x="1163" y="347">Atom, KML, MathML, RSS</text>
<text x="1070" y="347">EML, MEI, MusicXML,</text>
<text x="1070" y="353.2">NewsML, SGML, XML</text>

<text x="1284" y="415">METS,</text>
<text x="1284" y="421.2">MPEG-21</text>
<text x="1284" y="427.4">DIDL, MXF,</text>
<text x="1284" y="433.6">SCORM</text>
<text x="1314" y="409">AES</text>
<text x="1314" y="415.2">Process</text>
<text x="1314" y="421.4">History,</text>
<text x="1314" y="427.6">OAIS,</text>
<text x="1314" y="433.8">PREMIS</text>
<text x="1425" y="387">ADL, OAI-ORE</text>
<text x="1463" y="350">AES Core Audio, MIX,</text>
<text x="1463" y="356.2">TextMD</text>
<text x="1515" y="205">AGLS, DC, MPEG-7, QDC, TEI, XMP</text>
<text x="1540" y="254">CanCore, EAD,</text>
<text x="1540" y="260.2">ISAD(G), SKOS</text>
<text x="1482" y="434">MIX, METS,</text>
<text x="1482" y="440.2">MusicXML, RDF,</text>
<text x="1482" y="446.4">RDF, SGML, XML</text>
<text x="1408" y="468">DIG35, ID3, PB Core,</text>
<text x="1408" y="474.2">PRISM, RDF, SGML,</text>
<text x="1408" y="480.4">SPECTRUM, XML</text>
<text x="1318" y="463">AES Core Audio,</text>
<text x="1318" y="469.2">MIX, SGML, TextMD,</text>
<text x="1318" y="475.4">XML</text>
<text x="1253" y="460">SGML, XML</text>
<text x="1070" y="405">Atom, OpenURL, RDF, RSS, SGML,</text>
<text x="1070" y="411.2">VSO Data Model, XML, XMP</text>
</g>
<g class="w" text-anchor="start">
<text x="1309" y="234">ADL, AES Core Audio, AES Process</text>
<text x="1309" y="240.2">History, CDWA Lite, DIF, DIG35, DwC,</text>
<text x="1309" y="246.4">EAC-CPF, EAD, EML, FGDC/CSDGM,</text>
<text x="1309" y="252.6">GEM, GILS, GML, ID3, IEEE/LOM, ISO</text>
<text x="1309" y="258.8">19115, KML, MADS, MARC, MARCXML,</text>
<text x="1309" y="265">MathML, MEI, METS, METS Rights, MIX,</text>
<text x="1309" y="271.2">MODS, MPEG-21 DIDL, MuseumDat,</text>
<text x="1309" y="277.4">MusicXML, MXF, ODRL, ONIX, PB</text>
<text x="1309" y="283.6">Core, PREMIS, PRISM,</text>
<text x="1309" y="289.8">SCORM, SMIL, TextMD, VRA</text>
<text x="1309" y="296">Core, XrML</text>
<text x="1344" y="404">Indecs, METS</text>
<text x="1344" y="410.2">Rights, ODRL, XrML</text>
<text x="1533" y="373">ADL, AES Process</text>
<text x="1533" y="379.2">History, DIG35, ID3,</text>
<text x="1533" y="385.4">MPEG-7, MXF, RDF,</text>
<text x="1533" y="391.6">SGML, VSO Data Model,</text>
<text x="1533" y="397.8">XML</text>
</g>
<g class="w" text-anchor="end">
<text x="1290" y="352">AACR2, AAT, AGLS, APPM,</text>
<text x="1290" y="358.2">BISAC, CanCore, CCO, CDWA, CDWA Lite, CIDOC/CRM,</text>
<text x="1290" y="364.4">DACS, DC, DCAM, DDC, DIF, DIG35, DwC, EAC-CPF, EAD, EML,</text>
<text x="1290" y="370.6">FGDC/CSDGM, FOAF, FRAD, FRBR, FRSAD, GEM, GILS, GML, ID3,</text>
<text x="1290" y="376.8">IEEE/LOM, Indecs, ISAAR(CPF), ISAD(G), ISBD, ISO 19115, LCC,</text>
<text x="1290" y="383">LCSH, Linked Data, MADS, MARC, MARC Relator Codes,</text>
<text x="1290" y="389.2">MARCXML, MESH, MO, MODS, MPEG-7, MuseumDat,</text>
<text x="1290" y="395.4">NewsML, OAI-PMH, ONIX, Ontology for Media</text>
<text x="1290" y="401.6">Resource, PB Core, PRISM, QDC, RAD, RDA,</text>
<text x="1290" y="407.8">SCORM, Sears List of Subject Headings,</text>
<text x="1286" y="414">SKOS, SPECTRUM, SRU, SWAP, TGM I,</text>
<text x="1282" y="420.2">TGM II, TGN, Topic Maps, ULAN,</text>
<text x="1278" y="426.4">VRA Core, XOBIS,</text>
<text x="1272" y="432.6">Z39.50</text>
</g>

<!-- center ovals -->
<ellipse cx="409" cy="337" rx="36" ry="20" fill="#fff" stroke="#222" stroke-width="0.8"/>
<text x="409" y="333" text-anchor="middle" font-family="Liberation Sans,sans-serif" font-size="12" fill="#111">Domain</text>
<text x="409" y="350" text-anchor="middle" font-family="Liberation Sans,sans-serif" font-size="12" fill="#111">Community</text>
<ellipse cx="1325" cy="337" rx="36" ry="20" fill="#fff" stroke="#222" stroke-width="0.8"/>
<text x="1325" y="333" text-anchor="middle" font-family="Liberation Sans,sans-serif" font-size="12" fill="#111">Function</text>
<text x="1325" y="350" text-anchor="middle" font-family="Liberation Sans,sans-serif" font-size="12" fill="#111">Purpose</text>

<!-- center title -->
<text x="866" y="193" text-anchor="middle" font-family="Liberation Sans,sans-serif" font-weight="bold" font-size="29" fill="#fff" textLength="237" lengthAdjust="spacingAndGlyphs">Seeing Standards:</text>
<text x="864" y="220" text-anchor="middle" font-family="Liberation Sans,sans-serif" font-size="22" fill="#fff" textLength="212" lengthAdjust="spacingAndGlyphs">A Visualization of the</text>
<text x="864" y="245" text-anchor="middle" font-family="Liberation Sans,sans-serif" font-size="22" fill="#fff" textLength="190" lengthAdjust="spacingAndGlyphs">Metadata Universe</text>
<text x="866" y="275" text-anchor="middle" font-family="Liberation Sans,sans-serif" font-size="8.5" fill="#333" textLength="84" lengthAdjust="spacingAndGlyphs">Content: Jenn Riley</text>
<text x="866" y="285" text-anchor="middle" font-family="Liberation Sans,sans-serif" font-size="7" fill="#333">Design: Devin Becker</text>
<text x="866" y="301" text-anchor="middle" font-family="Liberation Serif,serif" font-style="italic" font-size="4.4" fill="#333">Work funded by the Indiana University Libraries</text>
<text x="866" y="306" text-anchor="middle" font-family="Liberation Serif,serif" font-style="italic" font-size="4.4" fill="#333">White Professional Development Award</text>
<text x="866" y="352" text-anchor="middle" font-family="Liberation Sans,sans-serif" font-size="5.5" fill="#333">Copyright 2009-2010 Jenn Riley</text>
<rect x="856" y="357" width="20" height="8" fill="#333"/>
<text x="866" y="363" text-anchor="middle" font-family="Liberation Sans,sans-serif" font-size="5" font-weight="bold" fill="#ddd">cc by</text>
<text x="866" y="370" text-anchor="middle" class="a">This work is licensed under a Creative Commons</text>
<text x="866" y="374" text-anchor="middle" class="a">Attribution-Noncommercial-Share Alike 3.0 United States License</text>
<text x="866" y="378" text-anchor="middle" class="a">(http://creativecommons.org/licenses/by-nc-sa/3.0/us/)</text>

<!-- legend panel -->
<path d="M728,578 L728,455 C728,425 790,410 866,410 C945,410 1005,425 1005,462 L1005,578" fill="#fff" stroke="#999" stroke-width="0.8"/>
<ellipse cx="803" cy="441" rx="35" ry="12" fill="#2c2f8f"/>
<text x="803" y="446" text-anchor="middle" font-family="Liberation Sans,sans-serif" font-size="13" fill="#fff" textLength="54" lengthAdjust="spacingAndGlyphs">LEGEND</text>
<text x="743" y="468" font-family="Liberation Sans,sans-serif" font-size="7" fill="#333">Summary and Purpose</text>
<g class="g">
<text x="743" y="477">The sheer number of metadata standards in the cultural</text>
<text x="743" y="482">heritage sector is overwhelming, and their inter-relationships</text>
<text x="743" y="487">further complicate the situation. This visual map of the</text>
<text x="743" y="492">metadata landscape is intended to assist planners with the</text>
<text x="743" y="497">selection and implementation of metadata standards.</text>
<text x="743" y="506">Each of the 105 standards listed here is evaluated on its</text>
<text x="743" y="511">strength of application to defined categories in each of four</text>
<text x="743" y="516">axes: community, domain, function, and purpose. The strength</text>
<text x="743" y="521">of a standard in a given category is determined by a mixture of</text>
<text x="743" y="526">its adoption in that category, its design intent, and its overall</text>
<text x="743" y="531">appropriateness for use in that category.</text>
<text x="743" y="541">The standards represented here are among those most heavily</text>
<text x="743" y="546">used or publicized in the cultural heritage community, though</text>
<text x="743" y="551">certainly not all standards that might be relevant are included.</text>
<text x="743" y="556">A small subset of the standards plotted on the main</text>
<text x="743" y="561">visualization also appear as highlights above the graphic. These</text>
<text x="743" y="566">represent the most commonly known or discussed standards for</text>
<text x="743" y="571">cultural heritage metadata.</text>
</g>
<!-- wedge -->
<path d="M900,576 L902.1,458.0 A118,118 0 0 1 955.4,471.8 Z" fill="#f7c4c4"/>
<path d="M900,576 L901.6,484.0 A92,92 0 0 1 943.2,494.8 Z" fill="#f28c8c"/>
<path d="M900,576 L901.2,506.0 A70,70 0 0 1 932.9,514.2 Z" fill="#eb5058"/>
<path d="M900,576 L900.8,530.0 A46,46 0 0 1 921.6,535.4 Z" fill="#e3262e"/>
<path d="M900,576 L900.4,554.0 A22,22 0 0 1 910.3,556.6 Z" fill="#fff"/>
<line x1="900" y1="576" x2="900.4" y2="554" stroke="#666" stroke-width="0.5"/>
<line x1="900" y1="576" x2="910.3" y2="556.6" stroke="#666" stroke-width="0.5"/>
<g stroke-width="0.9">
<line x1="895" y1="432" x2="889" y2="418" stroke="#2a3a8a"/>
<line x1="900" y1="432" x2="912" y2="418" stroke="#4a9a40"/>
<line x1="903" y1="434" x2="918" y2="426" stroke="#7ab04a"/>
<line x1="900" y1="441" x2="910" y2="456" stroke="#9a5ab0"/>
<line x1="894" y1="441" x2="889" y2="454" stroke="#e89232"/>
<line x1="890" y1="439" x2="876" y2="444" stroke="#e86a70"/>
<line x1="890" y1="434" x2="877" y2="428" stroke="#7cc6e2"/>
</g>
<text x="897" y="440" text-anchor="middle" font-family="Liberation Sans,sans-serif" font-weight="bold" font-size="8" fill="#111">TEI</text>
<line x1="955" y1="496" x2="922" y2="556" stroke="#c0202a" stroke-width="2.5" marker-end="url(#ah)"/>
<g class="a" text-anchor="middle">
<text x="880" y="421">Stars represent those</text>
<text x="880" y="425">standards that are used</text>
<text x="880" y="429">most often.</text>
<text x="930" y="420">Category name</text>
<text x="935" y="431">Font Size</text>
<text x="935" y="435">=</text>
<text x="935" y="439">Strength of application</text>
<text x="880" y="471">Strength of</text>
<text x="880" y="475">standard's connection</text>
<text x="880" y="479">indicated by</text>
<text x="880" y="483">Font Size</text>
<text x="965" y="467">Other</text>
<text x="965" y="471">Category</text>
<text x="958" y="530">The standards listed</text>
<text x="958" y="534">closest to the center</text>
<text x="958" y="538">of a slice are those</text>
<text x="958" y="543">that are most strongly</text>
<text x="958" y="547">connected to the given</text>
<text x="958" y="551">category.</text>
</g>
</svg>
</body></html>
